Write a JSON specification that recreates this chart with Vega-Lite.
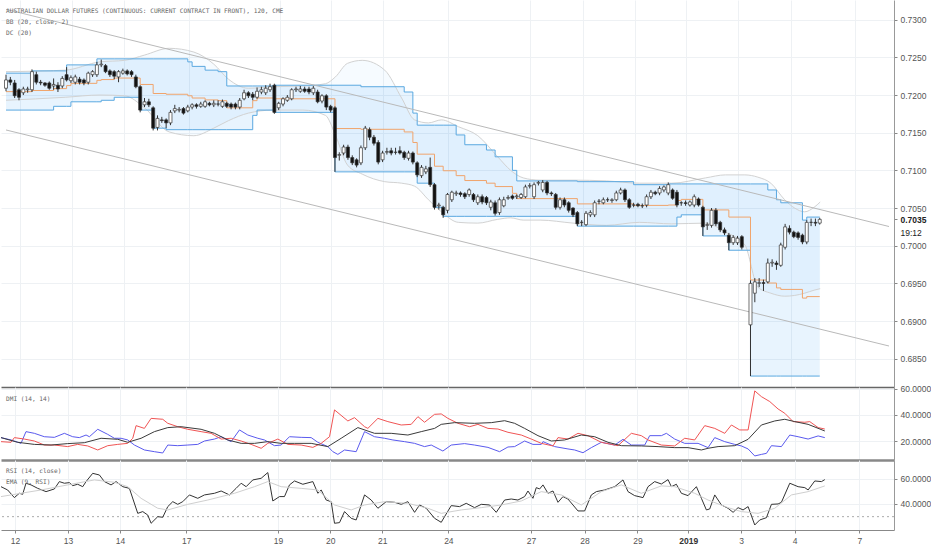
{
  "$schema": "https://vega.github.io/schema/vega-lite/v6.json",
  "padding": 0,
  "spacing": 0,
  "bounds": "flush",
  "resolve": {"scale": {"color": "independent"}},
  "config": {
    "view": {"stroke": null},
    "axis": {"gridColor": "#eef1f4", "gridWidth": 1, "labelFont": "Liberation Sans", "labelFontSize": 8.5, "labelColor": "#555", "domainColor": "#888", "tickColor": "#888", "labelOverlap": false}
  },
  "datasets": {
    "candles": [
      {"t":0,"o":0.7209,"h":0.7227,"l":0.7205,"c":0.7220},{"t":1,"o":0.7220,"h":0.7224,"l":0.7213,"c":0.7217},{"t":2,"o":0.7216,"h":0.7220,"l":0.7196,"c":0.7199},{"t":3,"o":0.7207,"h":0.7209,"l":0.7193,"c":0.7197},{"t":4,"o":0.7203,"h":0.7211,"l":0.7200,"c":0.7208},{"t":5,"o":0.7207,"h":0.7211,"l":0.7203,"c":0.7208},{"t":6,"o":0.7207,"h":0.7234,"l":0.7204,"c":0.7231},{"t":7,"o":0.7227,"h":0.7231,"l":0.7214,"c":0.7217},{"t":8,"o":0.7217,"h":0.7220,"l":0.7213,"c":0.7216},{"t":9,"o":0.7216,"h":0.7217,"l":0.7211,"c":0.7213},
      {"t":10,"o":0.7216,"h":0.7218,"l":0.7207,"c":0.7209},{"t":11,"o":0.7212,"h":0.7222,"l":0.7207,"c":0.7214},{"t":12,"o":0.7213,"h":0.7217,"l":0.7204,"c":0.7208},{"t":13,"o":0.7212,"h":0.7225,"l":0.7209,"c":0.7222},{"t":14,"o":0.7227,"h":0.7237,"l":0.7218,"c":0.7220},{"t":15,"o":0.7219,"h":0.7226,"l":0.7216,"c":0.7223},{"t":16,"o":0.7217,"h":0.7227,"l":0.7214,"c":0.7224},{"t":17,"o":0.7221,"h":0.7224,"l":0.7214,"c":0.7217},{"t":18,"o":0.7220,"h":0.7222,"l":0.7213,"c":0.7216},{"t":19,"o":0.7217,"h":0.7231,"l":0.7214,"c":0.7229},
      {"t":20,"o":0.7227,"h":0.7233,"l":0.7224,"c":0.7231},{"t":21,"o":0.7227,"h":0.7244,"l":0.7224,"c":0.7240},{"t":22,"o":0.7240,"h":0.7247,"l":0.7237,"c":0.7241},{"t":23,"o":0.7239,"h":0.7241,"l":0.7229,"c":0.7231},{"t":24,"o":0.7232,"h":0.7234,"l":0.7224,"c":0.7227},{"t":25,"o":0.7231,"h":0.7233,"l":0.7221,"c":0.7225},{"t":26,"o":0.7224,"h":0.7233,"l":0.7217,"c":0.7231},{"t":27,"o":0.7229,"h":0.7235,"l":0.7227,"c":0.7232},{"t":28,"o":0.7232,"h":0.7234,"l":0.7226,"c":0.7228},{"t":29,"o":0.7231,"h":0.7233,"l":0.7224,"c":0.7227},
      {"t":30,"o":0.7224,"h":0.7227,"l":0.7209,"c":0.7211},{"t":31,"o":0.7211,"h":0.7213,"l":0.7177,"c":0.7180},{"t":32,"o":0.7187,"h":0.7196,"l":0.7184,"c":0.7191},{"t":33,"o":0.7191,"h":0.7195,"l":0.7184,"c":0.7187},{"t":34,"o":0.7183,"h":0.7185,"l":0.7153,"c":0.7156},{"t":35,"o":0.7157,"h":0.7173,"l":0.7153,"c":0.7169},{"t":36,"o":0.7167,"h":0.7171,"l":0.7163,"c":0.7166},{"t":37,"o":0.7167,"h":0.7169,"l":0.7156,"c":0.7163},{"t":38,"o":0.7163,"h":0.7180,"l":0.7160,"c":0.7177},{"t":39,"o":0.7179,"h":0.7187,"l":0.7176,"c":0.7182},
      {"t":40,"o":0.7180,"h":0.7184,"l":0.7177,"c":0.7181},{"t":41,"o":0.7182,"h":0.7184,"l":0.7174,"c":0.7176},{"t":42,"o":0.7179,"h":0.7187,"l":0.7177,"c":0.7184},{"t":43,"o":0.7184,"h":0.7189,"l":0.7181,"c":0.7187},{"t":44,"o":0.7187,"h":0.7189,"l":0.7182,"c":0.7185},{"t":45,"o":0.7185,"h":0.7191,"l":0.7183,"c":0.7188},{"t":46,"o":0.7185,"h":0.7193,"l":0.7183,"c":0.7191},{"t":47,"o":0.7189,"h":0.7191,"l":0.7185,"c":0.7187},{"t":48,"o":0.7187,"h":0.7193,"l":0.7184,"c":0.7189},{"t":49,"o":0.7188,"h":0.7193,"l":0.7185,"c":0.7188},
      {"t":50,"o":0.7185,"h":0.7194,"l":0.7183,"c":0.7191},{"t":51,"o":0.7189,"h":0.7191,"l":0.7183,"c":0.7185},{"t":52,"o":0.7188,"h":0.7190,"l":0.7181,"c":0.7184},{"t":53,"o":0.7188,"h":0.7190,"l":0.7181,"c":0.7184},{"t":54,"o":0.7184,"h":0.7196,"l":0.7181,"c":0.7193},{"t":55,"o":0.7195,"h":0.7207,"l":0.7193,"c":0.7203},{"t":56,"o":0.7203,"h":0.7205,"l":0.7196,"c":0.7199},{"t":57,"o":0.7201,"h":0.7204,"l":0.7193,"c":0.7197},{"t":58,"o":0.7197,"h":0.7210,"l":0.7195,"c":0.7205},{"t":59,"o":0.7204,"h":0.7211,"l":0.7201,"c":0.7207},
      {"t":60,"o":0.7203,"h":0.7213,"l":0.7200,"c":0.7209},{"t":61,"o":0.7207,"h":0.7215,"l":0.7204,"c":0.7211},{"t":62,"o":0.7213,"h":0.7215,"l":0.7175,"c":0.7177},{"t":63,"o":0.7183,"h":0.7191,"l":0.7180,"c":0.7189},{"t":64,"o":0.7188,"h":0.7197,"l":0.7185,"c":0.7195},{"t":65,"o":0.7193,"h":0.7200,"l":0.7191,"c":0.7197},{"t":66,"o":0.7195,"h":0.7209,"l":0.7193,"c":0.7207},{"t":67,"o":0.7207,"h":0.7211,"l":0.7204,"c":0.7208},{"t":68,"o":0.7205,"h":0.7212,"l":0.7203,"c":0.7208},{"t":69,"o":0.7208,"h":0.7211,"l":0.7203,"c":0.7205},
      {"t":70,"o":0.7208,"h":0.7211,"l":0.7201,"c":0.7204},{"t":71,"o":0.7203,"h":0.7212,"l":0.7200,"c":0.7209},{"t":72,"o":0.7204,"h":0.7207,"l":0.7189,"c":0.7191},{"t":73,"o":0.7192,"h":0.7201,"l":0.7189,"c":0.7199},{"t":74,"o":0.7199,"h":0.7201,"l":0.7180,"c":0.7184},{"t":75,"o":0.7185,"h":0.7187,"l":0.7177,"c":0.7180},{"t":76,"o":0.7183,"h":0.7185,"l":0.7098,"c":0.7117},{"t":77,"o":0.7120,"h":0.7124,"l":0.7113,"c":0.7121},{"t":78,"o":0.7123,"h":0.7134,"l":0.7120,"c":0.7131},{"t":79,"o":0.7131,"h":0.7134,"l":0.7114,"c":0.7117},
      {"t":80,"o":0.7117,"h":0.7120,"l":0.7107,"c":0.7110},{"t":81,"o":0.7114,"h":0.7116,"l":0.7104,"c":0.7107},{"t":82,"o":0.7110,"h":0.7133,"l":0.7107,"c":0.7130},{"t":83,"o":0.7130,"h":0.7159,"l":0.7127,"c":0.7156},{"t":84,"o":0.7154,"h":0.7157,"l":0.7140,"c":0.7144},{"t":85,"o":0.7144,"h":0.7147,"l":0.7133,"c":0.7136},{"t":86,"o":0.7137,"h":0.7140,"l":0.7108,"c":0.7111},{"t":87,"o":0.7114,"h":0.7126,"l":0.7111,"c":0.7123},{"t":88,"o":0.7124,"h":0.7130,"l":0.7121,"c":0.7125},{"t":89,"o":0.7126,"h":0.7130,"l":0.7120,"c":0.7123},
      {"t":90,"o":0.7124,"h":0.7130,"l":0.7121,"c":0.7124},{"t":91,"o":0.7126,"h":0.7132,"l":0.7121,"c":0.7123},{"t":92,"o":0.7124,"h":0.7126,"l":0.7114,"c":0.7117},{"t":93,"o":0.7116,"h":0.7126,"l":0.7113,"c":0.7123},{"t":94,"o":0.7123,"h":0.7125,"l":0.7108,"c":0.7111},{"t":95,"o":0.7110,"h":0.7112,"l":0.7091,"c":0.7094},{"t":96,"o":0.7093,"h":0.7107,"l":0.7090,"c":0.7104},{"t":97,"o":0.7098,"h":0.7106,"l":0.7095,"c":0.7102},{"t":98,"o":0.7104,"h":0.7117,"l":0.7078,"c":0.7081},{"t":99,"o":0.7081,"h":0.7083,"l":0.7048,"c":0.7051},
      {"t":100,"o":0.7053,"h":0.7057,"l":0.7048,"c":0.7054},{"t":101,"o":0.7051,"h":0.7053,"l":0.7037,"c":0.7041},{"t":102,"o":0.7047,"h":0.7070,"l":0.7043,"c":0.7068},{"t":103,"o":0.7061,"h":0.7073,"l":0.7058,"c":0.7071},{"t":104,"o":0.7069,"h":0.7073,"l":0.7066,"c":0.7070},{"t":105,"o":0.7070,"h":0.7072,"l":0.7065,"c":0.7068},{"t":106,"o":0.7069,"h":0.7071,"l":0.7062,"c":0.7065},{"t":107,"o":0.7068,"h":0.7076,"l":0.7065,"c":0.7074},{"t":108,"o":0.7068,"h":0.7070,"l":0.7058,"c":0.7061},{"t":109,"o":0.7057,"h":0.7068,"l":0.7054,"c":0.7065},
      {"t":110,"o":0.7065,"h":0.7068,"l":0.7055,"c":0.7058},{"t":111,"o":0.7064,"h":0.7066,"l":0.7054,"c":0.7057},{"t":112,"o":0.7051,"h":0.7061,"l":0.7047,"c":0.7058},{"t":113,"o":0.7057,"h":0.7060,"l":0.7040,"c":0.7043},{"t":114,"o":0.7044,"h":0.7064,"l":0.7041,"c":0.7061},{"t":115,"o":0.7053,"h":0.7065,"l":0.7051,"c":0.7061},{"t":116,"o":0.7063,"h":0.7067,"l":0.7061,"c":0.7064},{"t":117,"o":0.7066,"h":0.7068,"l":0.7061,"c":0.7063},{"t":118,"o":0.7065,"h":0.7068,"l":0.7062,"c":0.7066},{"t":119,"o":0.7064,"h":0.7070,"l":0.7062,"c":0.7068},
      {"t":120,"o":0.7065,"h":0.7081,"l":0.7063,"c":0.7078},{"t":121,"o":0.7079,"h":0.7083,"l":0.7076,"c":0.7080},{"t":122,"o":0.7065,"h":0.7084,"l":0.7062,"c":0.7081},{"t":123,"o":0.7083,"h":0.7086,"l":0.7080,"c":0.7084},{"t":124,"o":0.7074,"h":0.7087,"l":0.7071,"c":0.7084},{"t":125,"o":0.7084,"h":0.7086,"l":0.7067,"c":0.7070},{"t":126,"o":0.7070,"h":0.7072,"l":0.7066,"c":0.7069},{"t":127,"o":0.7068,"h":0.7070,"l":0.7048,"c":0.7051},{"t":128,"o":0.7051,"h":0.7064,"l":0.7048,"c":0.7061},{"t":129,"o":0.7061,"h":0.7064,"l":0.7051,"c":0.7054},
      {"t":130,"o":0.7057,"h":0.7059,"l":0.7044,"c":0.7047},{"t":131,"o":0.7050,"h":0.7051,"l":0.7038,"c":0.7041},{"t":132,"o":0.7044,"h":0.7046,"l":0.7026,"c":0.7029},{"t":133,"o":0.7031,"h":0.7034,"l":0.7026,"c":0.7031},{"t":134,"o":0.7028,"h":0.7046,"l":0.7026,"c":0.7043},{"t":135,"o":0.7041,"h":0.7047,"l":0.7038,"c":0.7044},{"t":136,"o":0.7041,"h":0.7060,"l":0.7038,"c":0.7057},{"t":137,"o":0.7059,"h":0.7062,"l":0.7055,"c":0.7059},{"t":138,"o":0.7057,"h":0.7064,"l":0.7055,"c":0.7061},{"t":139,"o":0.7061,"h":0.7064,"l":0.7058,"c":0.7061},
      {"t":140,"o":0.7060,"h":0.7063,"l":0.7057,"c":0.7061},{"t":141,"o":0.7061,"h":0.7073,"l":0.7059,"c":0.7070},{"t":142,"o":0.7070,"h":0.7077,"l":0.7068,"c":0.7074},{"t":143,"o":0.7074,"h":0.7076,"l":0.7058,"c":0.7061},{"t":144,"o":0.7061,"h":0.7063,"l":0.7049,"c":0.7051},{"t":145,"o":0.7054,"h":0.7057,"l":0.7051,"c":0.7054},{"t":146,"o":0.7055,"h":0.7057,"l":0.7051,"c":0.7053},{"t":147,"o":0.7053,"h":0.7056,"l":0.7050,"c":0.7053},{"t":148,"o":0.7054,"h":0.7068,"l":0.7051,"c":0.7065},{"t":149,"o":0.7065,"h":0.7074,"l":0.7062,"c":0.7071},
      {"t":150,"o":0.7071,"h":0.7073,"l":0.7067,"c":0.7069},{"t":151,"o":0.7070,"h":0.7079,"l":0.7067,"c":0.7076},{"t":152,"o":0.7074,"h":0.7080,"l":0.7071,"c":0.7078},{"t":153,"o":0.7070,"h":0.7084,"l":0.7067,"c":0.7081},{"t":154,"o":0.7074,"h":0.7076,"l":0.7061,"c":0.7063},{"t":155,"o":0.7071,"h":0.7074,"l":0.7051,"c":0.7054},{"t":156,"o":0.7057,"h":0.7059,"l":0.7053,"c":0.7057},{"t":157,"o":0.7057,"h":0.7060,"l":0.7053,"c":0.7056},{"t":158,"o":0.7054,"h":0.7060,"l":0.7052,"c":0.7058},{"t":159,"o":0.7054,"h":0.7068,"l":0.7051,"c":0.7065},
      {"t":160,"o":0.7062,"h":0.7064,"l":0.7052,"c":0.7054},{"t":161,"o":0.7051,"h":0.7053,"l":0.7013,"c":0.7025},{"t":162,"o":0.7027,"h":0.7031,"l":0.7021,"c":0.7028},{"t":163,"o":0.7027,"h":0.7050,"l":0.7024,"c":0.7047},{"t":164,"o":0.7047,"h":0.7050,"l":0.7026,"c":0.7029},{"t":165,"o":0.7031,"h":0.7033,"l":0.7018,"c":0.7021},{"t":166,"o":0.7021,"h":0.7024,"l":0.7014,"c":0.7017},{"t":167,"o":0.7014,"h":0.7017,"l":0.6994,"c":0.7004},{"t":168,"o":0.7004,"h":0.7014,"l":0.7001,"c":0.7011},{"t":169,"o":0.7004,"h":0.7013,"l":0.7001,"c":0.7010},
      {"t":170,"o":0.7012,"h":0.7014,"l":0.6995,"c":0.6998},{"t":172,"o":0.6895,"h":0.6954,"l":0.6827,"c":0.6950},{"t":173,"o":0.6937,"h":0.6957,"l":0.6925,"c":0.6952},{"t":174,"o":0.6950,"h":0.6957,"l":0.6945,"c":0.6951},{"t":175,"o":0.6951,"h":0.6955,"l":0.6940,"c":0.6950},{"t":176,"o":0.6952,"h":0.6983,"l":0.6950,"c":0.6977},{"t":177,"o":0.6977,"h":0.6982,"l":0.6972,"c":0.6978},{"t":178,"o":0.6977,"h":0.6980,"l":0.6968,"c":0.6975},{"t":179,"o":0.6974,"h":0.7004,"l":0.6972,"c":0.7001},
      {"t":180,"o":0.6998,"h":0.7029,"l":0.6995,"c":0.7025},{"t":181,"o":0.7023,"h":0.7027,"l":0.7015,"c":0.7018},{"t":182,"o":0.7018,"h":0.7020,"l":0.7010,"c":0.7012},{"t":183,"o":0.7017,"h":0.7019,"l":0.7008,"c":0.7011},{"t":184,"o":0.7014,"h":0.7016,"l":0.7002,"c":0.7005},{"t":185,"o":0.7005,"h":0.7034,"l":0.7002,"c":0.7031},{"t":186,"o":0.7031,"h":0.7036,"l":0.7026,"c":0.7031},{"t":187,"o":0.7031,"h":0.7036,"l":0.7026,"c":0.7030},{"t":188,"o":0.7030,"h":0.7037,"l":0.7028,"c":0.7035}
    ],
    "dc": [
      {"t":0,"u":0.7229,"l":0.718,"m":0.72045},{"t":6,"u":0.7232,"l":0.718,"m":0.7206},{"t":11,"u":0.7232,"l":0.7185,"m":0.72085},{"t":14,"u":0.724,"l":0.7185,"m":0.72125},{"t":15,"u":0.724,"l":0.7191,"m":0.72155},{"t":21,"u":0.7248,"l":0.7191,"m":0.72195},{"t":22,"u":0.7248,"l":0.7193,"m":0.72205},{"t":25,"u":0.7248,"l":0.7197,"m":0.72225},{"t":31,"u":0.7248,"l":0.718,"m":0.7214},{"t":34,"u":0.7248,"l":0.7156,"m":0.7202},{"t":37,"u":0.7248,"l":0.7154,"m":0.7201},{"t":42,"u":0.7244,"l":0.7154,"m":0.7199},{"t":43,"u":0.7238,"l":0.7154,"m":0.7196},{"t":46,"u":0.7233,"l":0.7154,"m":0.71935},{"t":49,"u":0.7231,"l":0.7154,"m":0.71925},{"t":51,"u":0.7212,"l":0.7154,"m":0.7183},{"t":57,"u":0.7212,"l":0.7173,"m":0.71925},{"t":58,"u":0.7212,"l":0.718,"m":0.7196},{"t":62,"u":0.7213,"l":0.7177,"m":0.7195},{"t":76,"u":0.7213,"l":0.7098,"m":0.71555},{"t":82,"u":0.7211,"l":0.7098,"m":0.71545},{"t":92,"u":0.7204,"l":0.7098,"m":0.7151},{"t":94,"u":0.7176,"l":0.7098,"m":0.7137},{"t":95,"u":0.716,"l":0.7083,"m":0.71215},{"t":99,"u":0.716,"l":0.7051,"m":0.71055},{"t":101,"u":0.716,"l":0.7039,"m":0.70995},{"t":104,"u":0.7147,"l":0.7039,"m":0.7093},{"t":106,"u":0.7134,"l":0.7039,"m":0.70865},{"t":111,"u":0.7127,"l":0.7039,"m":0.7083},{"t":113,"u":0.7118,"l":0.7039,"m":0.70785},{"t":117,"u":0.71,"l":0.7039,"m":0.70695},{"t":118,"u":0.7086,"l":0.7039,"m":0.70625},{"t":132,"u":0.7085,"l":0.7026,"m":0.70555},{"t":145,"u":0.7081,"l":0.7026,"m":0.70535},{"t":153,"u":0.7082,"l":0.7026,"m":0.7054},{"t":155,"u":0.7082,"l":0.7038,"m":0.706},{"t":156,"u":0.7082,"l":0.7041,"m":0.70615},{"t":161,"u":0.7082,"l":0.7013,"m":0.70475},{"t":167,"u":0.7082,"l":0.6994,"m":0.7038},{"t":172,"u":0.7082,"l":0.6827,"m":0.69545},{"t":176,"u":0.7074,"l":0.6827,"m":0.69505},{"t":178,"u":0.7061,"l":0.6827,"m":0.6944},{"t":179,"u":0.7057,"l":0.6827,"m":0.6942},{"t":184,"u":0.7034,"l":0.6827,"m":0.69305},{"t":185,"u":0.7038,"l":0.6827,"m":0.69325},{"t":188,"u":0.7038,"l":0.6827,"m":0.69325}
    ],
    "bb": [
      {"t":0,"u":0.7231,"l":0.7193},{"t":13.7,"u":0.7233,"l":0.7197},{"t":21.7,"u":0.7244,"l":0.72},{"t":27.4,"u":0.7246,"l":0.7199},{"t":32,"u":0.7253,"l":0.7183},{"t":37.7,"u":0.7262,"l":0.7151},{"t":43.4,"u":0.7257,"l":0.7146},{"t":48,"u":0.7241,"l":0.7156},{"t":51.4,"u":0.7221,"l":0.7166},{"t":56,"u":0.7209,"l":0.7176},{"t":61.7,"u":0.7211,"l":0.718},{"t":68.6,"u":0.7212,"l":0.718},{"t":73.8,"u":0.7215,"l":0.7173},{"t":76.1,"u":0.7224,"l":0.7147},{"t":78.9,"u":0.7242,"l":0.7107},{"t":82.3,"u":0.7246,"l":0.7095},{"t":87.5,"u":0.7233,"l":0.7085},{"t":91.4,"u":0.7196,"l":0.7083},{"t":94.4,"u":0.7167,"l":0.7079},{"t":97.6,"u":0.7163,"l":0.7061},{"t":100.6,"u":0.7167,"l":0.7045},{"t":104.5,"u":0.7158,"l":0.7031},{"t":109,"u":0.7146,"l":0.703},{"t":113.6,"u":0.7118,"l":0.7035},{"t":116.6,"u":0.71,"l":0.7037},{"t":119.5,"u":0.709,"l":0.7034},{"t":123.4,"u":0.7087,"l":0.7034},{"t":131,"u":0.7087,"l":0.703},{"t":138.7,"u":0.7086,"l":0.7027},{"t":146.3,"u":0.7083,"l":0.7031},{"t":153.8,"u":0.7083,"l":0.7029},{"t":161.6,"u":0.709,"l":0.703},{"t":166.2,"u":0.7094,"l":0.7018},{"t":170.7,"u":0.7094,"l":0.7001},{"t":173.7,"u":0.7091,"l":0.6945},{"t":176.7,"u":0.7083,"l":0.6937},{"t":179.9,"u":0.7061,"l":0.6933},{"t":182.2,"u":0.705,"l":0.6934},{"t":184.5,"u":0.7045,"l":0.6937},{"t":186.7,"u":0.7051,"l":0.6941},{"t":188.1,"u":0.7058,"l":0.6943}
    ],
    "trend": [
      {"g":"a","t":0,"p":0.73137},{"g":"a","t":204,"p":0.70255},{"g":"b","t":0,"p":0.71536},{"g":"b","t":204,"p":0.68669}
    ],
    "dmi": [
      {"s":"p","t":0,"v":22.6},{"s":"p","t":2.29,"v":20.8},{"s":"p","t":4.57,"v":18.2},{"s":"p","t":5.71,"v":27.2},{"s":"p","t":7.62,"v":25.9},{"s":"p","t":9.9,"v":23.3},{"s":"p","t":12.19,"v":22.8},{"s":"p","t":14.48,"v":25.9},{"s":"p","t":16.38,"v":23.3},{"s":"p","t":17.9,"v":22.6},{"s":"p","t":19.43,"v":24.6},{"s":"p","t":20.19,"v":23.3},{"s":"p","t":22.1,"v":29},{"s":"p","t":24.38,"v":25.1},{"s":"p","t":25.9,"v":22.1},{"s":"p","t":27.43,"v":22.1},{"s":"p","t":28.95,"v":20.8},{"s":"p","t":30.48,"v":16.9},{"s":"p","t":32.76,"v":13.1},{"s":"p","t":35.05,"v":11.8},{"s":"p","t":36.95,"v":10.8},{"s":"p","t":38.1,"v":16.9},{"s":"p","t":40.38,"v":16.4},{"s":"p","t":42.67,"v":16.9},{"s":"p","t":44.95,"v":17.4},{"s":"p","t":46.48,"v":20},{"s":"p","t":48.76,"v":21.5},{"s":"p","t":50.29,"v":23.3},{"s":"p","t":52.57,"v":19.5},{"s":"p","t":54.48,"v":28.5},{"s":"p","t":56.38,"v":24.6},{"s":"p","t":58.67,"v":22.1},{"s":"p","t":60.19,"v":20.8},{"s":"p","t":62.48,"v":16.4},{"s":"p","t":64,"v":16.9},{"s":"p","t":65.9,"v":23.3},{"s":"p","t":68.57,"v":22.8},{"s":"p","t":70.86,"v":22.6},{"s":"p","t":72.38,"v":19},{"s":"p","t":74.67,"v":15.7},{"s":"p","t":75.81,"v":11.8},{"s":"p","t":76.95,"v":9.7},{"s":"p","t":78.48,"v":13.1},{"s":"p","t":81.14,"v":11.8},{"s":"p","t":83.05,"v":27.2},{"s":"p","t":85.33,"v":23.3},{"s":"p","t":87.62,"v":22.1},{"s":"p","t":89.52,"v":20.8},{"s":"p","t":92.19,"v":19.5},{"s":"p","t":94.48,"v":18.2},{"s":"p","t":96.76,"v":15.7},{"s":"p","t":98.29,"v":16.9},{"s":"p","t":100.95,"v":12.3},{"s":"p","t":102.86,"v":16.9},{"s":"p","t":105.9,"v":18},{"s":"p","t":108.19,"v":16.9},{"s":"p","t":111.24,"v":15.1},{"s":"p","t":113.9,"v":11.8},{"s":"p","t":115.81,"v":15.4},{"s":"p","t":117.33,"v":15.7},{"s":"p","t":119.62,"v":20},{"s":"p","t":121.52,"v":17.4},{"s":"p","t":123.43,"v":17.4},{"s":"p","t":123.81,"v":19.5},{"s":"p","t":126.48,"v":15.7},{"s":"p","t":129.52,"v":13.9},{"s":"p","t":131.05,"v":13.1},{"s":"p","t":132.95,"v":11},{"s":"p","t":134.86,"v":14.9},{"s":"p","t":137.14,"v":19},{"s":"p","t":140.19,"v":16.9},{"s":"p","t":142.1,"v":21.3},{"s":"p","t":144,"v":16.9},{"s":"p","t":147.05,"v":16.9},{"s":"p","t":148.19,"v":24.1},{"s":"p","t":150.86,"v":24.1},{"s":"p","t":152,"v":25.9},{"s":"p","t":153.9,"v":21.5},{"s":"p","t":156.19,"v":18.2},{"s":"p","t":159.24,"v":18.2},{"s":"p","t":161.52,"v":14.9},{"s":"p","t":163.05,"v":22.6},{"s":"p","t":165.33,"v":19.5},{"s":"p","t":167.62,"v":17.4},{"s":"p","t":169.14,"v":16.2},{"s":"p","t":170.67,"v":13.9},{"s":"p","t":172.19,"v":8.5},{"s":"p","t":173.71,"v":9.7},{"s":"p","t":174.86,"v":10.5},{"s":"p","t":176,"v":16.4},{"s":"p","t":178.28,"v":15.7},{"s":"p","t":180.19,"v":24.6},{"s":"p","t":182.09,"v":23.3},{"s":"p","t":184.38,"v":21.5},{"s":"p","t":186.67,"v":23.9},{"s":"p","t":188.19,"v":22.6},
      {"s":"m","t":0,"v":19.5},{"s":"m","t":2.29,"v":19},{"s":"m","t":3.05,"v":22.6},{"s":"m","t":5.33,"v":21.5},{"s":"m","t":7.62,"v":20},{"s":"m","t":9.9,"v":16.9},{"s":"m","t":12.19,"v":16.9},{"s":"m","t":15.24,"v":15.7},{"s":"m","t":17.52,"v":17.4},{"s":"m","t":19.81,"v":16.2},{"s":"m","t":22.1,"v":13.1},{"s":"m","t":24.38,"v":16.4},{"s":"m","t":26.67,"v":17.4},{"s":"m","t":28.95,"v":18.2},{"s":"m","t":30.1,"v":22.1},{"s":"m","t":30.86,"v":31.8},{"s":"m","t":32.76,"v":29.7},{"s":"m","t":34.29,"v":37.4},{"s":"m","t":36.95,"v":36.7},{"s":"m","t":38.1,"v":33.6},{"s":"m","t":40.38,"v":31},{"s":"m","t":42.67,"v":29},{"s":"m","t":45.71,"v":27.2},{"s":"m","t":48,"v":25.9},{"s":"m","t":50.29,"v":21.5},{"s":"m","t":52.57,"v":22.1},{"s":"m","t":54.86,"v":20},{"s":"m","t":57.14,"v":17.4},{"s":"m","t":59.43,"v":14.4},{"s":"m","t":60.95,"v":18.2},{"s":"m","t":63.24,"v":21.5},{"s":"m","t":65.52,"v":17.4},{"s":"m","t":68.57,"v":16.9},{"s":"m","t":71.24,"v":15.1},{"s":"m","t":73.14,"v":18.2},{"s":"m","t":75.05,"v":23.3},{"s":"m","t":76.19,"v":43.9},{"s":"m","t":79.24,"v":35.4},{"s":"m","t":80.76,"v":37.95},{"s":"m","t":83.05,"v":31},{"s":"m","t":83.81,"v":29.7},{"s":"m","t":86.1,"v":37.4},{"s":"m","t":88.38,"v":34.9},{"s":"m","t":91.43,"v":32.3},{"s":"m","t":93.71,"v":32.8},{"s":"m","t":95.24,"v":38.7},{"s":"m","t":96.76,"v":34.4},{"s":"m","t":99.05,"v":40.5},{"s":"m","t":100.57,"v":40.8},{"s":"m","t":102.1,"v":37.4},{"s":"m","t":104.38,"v":33.6},{"s":"m","t":107.05,"v":31},{"s":"m","t":108.95,"v":32.8},{"s":"m","t":111.24,"v":29.7},{"s":"m","t":113.52,"v":29.2},{"s":"m","t":115.81,"v":26.7},{"s":"m","t":118.86,"v":24.6},{"s":"m","t":121.14,"v":21.5},{"s":"m","t":123.43,"v":18.2},{"s":"m","t":126.1,"v":16.2},{"s":"m","t":127.24,"v":22.6},{"s":"m","t":129.52,"v":21.5},{"s":"m","t":131.81,"v":25.9},{"s":"m","t":134.1,"v":24.1},{"s":"m","t":137.14,"v":19},{"s":"m","t":139.43,"v":17.4},{"s":"m","t":140.95,"v":16.4},{"s":"m","t":144,"v":25.9},{"s":"m","t":146.28,"v":24.1},{"s":"m","t":147.81,"v":20.8},{"s":"m","t":150.86,"v":16.9},{"s":"m","t":153.9,"v":16.2},{"s":"m","t":156.19,"v":22.1},{"s":"m","t":158.47,"v":20.8},{"s":"m","t":160.76,"v":31.8},{"s":"m","t":163.05,"v":29.7},{"s":"m","t":165.33,"v":25.9},{"s":"m","t":166.86,"v":32.3},{"s":"m","t":168.76,"v":28.5},{"s":"m","t":170.67,"v":28.5},{"s":"m","t":172.19,"v":58.5},{"s":"m","t":173.71,"v":54.1},{"s":"m","t":175.62,"v":50.3},{"s":"m","t":177.52,"v":44.6},{"s":"m","t":179.05,"v":41.3},{"s":"m","t":180.95,"v":34.9},{"s":"m","t":183.62,"v":34.4},{"s":"m","t":184.76,"v":34.9},{"s":"m","t":186.67,"v":30.3},{"s":"m","t":188.19,"v":29.2},
      {"s":"a","t":0,"v":22.6},{"s":"a","t":3.81,"v":19},{"s":"a","t":7.62,"v":17.4},{"s":"a","t":11.43,"v":16.9},{"s":"a","t":15.24,"v":18},{"s":"a","t":19.05,"v":18.7},{"s":"a","t":22.86,"v":22.1},{"s":"a","t":26.67,"v":21.3},{"s":"a","t":28.95,"v":19},{"s":"a","t":32,"v":22.1},{"s":"a","t":35.05,"v":27.2},{"s":"a","t":38.1,"v":30.3},{"s":"a","t":41.14,"v":31},{"s":"a","t":45.71,"v":29},{"s":"a","t":48.76,"v":25.9},{"s":"a","t":51.81,"v":20.8},{"s":"a","t":54.86,"v":18.2},{"s":"a","t":57.9,"v":18.2},{"s":"a","t":60.95,"v":19.5},{"s":"a","t":64,"v":18.2},{"s":"a","t":67.05,"v":18.2},{"s":"a","t":70.86,"v":18.2},{"s":"a","t":74.67,"v":15.7},{"s":"a","t":77.71,"v":22.1},{"s":"a","t":81.52,"v":30.3},{"s":"a","t":85.33,"v":25.9},{"s":"a","t":89.14,"v":25.9},{"s":"a","t":92.95,"v":24.6},{"s":"a","t":96,"v":27.2},{"s":"a","t":99.05,"v":29.7},{"s":"a","t":100.57,"v":32.8},{"s":"a","t":103.62,"v":34.1},{"s":"a","t":108.19,"v":33.6},{"s":"a","t":112,"v":34.1},{"s":"a","t":115.05,"v":35.6},{"s":"a","t":117.33,"v":33.6},{"s":"a","t":119.62,"v":29.7},{"s":"a","t":122.67,"v":24.1},{"s":"a","t":125.71,"v":20},{"s":"a","t":128.76,"v":20.8},{"s":"a","t":132.57,"v":24.6},{"s":"a","t":135.62,"v":23.3},{"s":"a","t":138.67,"v":19},{"s":"a","t":141.71,"v":16.4},{"s":"a","t":146.28,"v":16.2},{"s":"a","t":150.1,"v":15.7},{"s":"a","t":153.9,"v":14.9},{"s":"a","t":156.95,"v":14.9},{"s":"a","t":160,"v":13.1},{"s":"a","t":161.52,"v":14.4},{"s":"a","t":163.81,"v":15.7},{"s":"a","t":167.62,"v":16.4},{"s":"a","t":170.67,"v":21.3},{"s":"a","t":173.71,"v":32.3},{"s":"a","t":176.76,"v":35.4},{"s":"a","t":179.05,"v":36.7},{"s":"a","t":181.33,"v":34.9},{"s":"a","t":184.38,"v":32.8},{"s":"a","t":188.19,"v":27.7}
    ],
    "rsi": [
      {"s":"r","t":0,"v":53.6},{"s":"r","t":1.52,"v":51},{"s":"r","t":3.05,"v":45},{"s":"r","t":4.19,"v":48.4},{"s":"r","t":4.95,"v":47.6},{"s":"r","t":5.71,"v":56.3},{"s":"r","t":6.86,"v":55},{"s":"r","t":8.38,"v":52.3},{"s":"r","t":10.29,"v":49.7},{"s":"r","t":12.19,"v":51.8},{"s":"r","t":13.33,"v":57.6},{"s":"r","t":14.48,"v":56.3},{"s":"r","t":15.62,"v":56.8},{"s":"r","t":16.38,"v":54.4},{"s":"r","t":17.52,"v":55.5},{"s":"r","t":18.67,"v":53.6},{"s":"r","t":19.43,"v":57.6},{"s":"r","t":20.95,"v":64.1},{"s":"r","t":22.48,"v":62.8},{"s":"r","t":23.62,"v":57.6},{"s":"r","t":25.14,"v":55},{"s":"r","t":26.29,"v":57.6},{"s":"r","t":27.81,"v":53.6},{"s":"r","t":29.33,"v":52.3},{"s":"r","t":31.24,"v":32.6},{"s":"r","t":32.38,"v":34},{"s":"r","t":33.52,"v":31.3},{"s":"r","t":34.29,"v":24.8},{"s":"r","t":35.81,"v":30},{"s":"r","t":36.95,"v":29.5},{"s":"r","t":38.1,"v":37.9},{"s":"r","t":39.24,"v":41.8},{"s":"r","t":40.38,"v":39.7},{"s":"r","t":41.52,"v":41.8},{"s":"r","t":43.05,"v":47.1},{"s":"r","t":44.95,"v":44.45},{"s":"r","t":46.48,"v":47.1},{"s":"r","t":48.76,"v":48.4},{"s":"r","t":50.29,"v":50.2},{"s":"r","t":52.19,"v":47.1},{"s":"r","t":53.71,"v":52.3},{"s":"r","t":54.86,"v":56.3},{"s":"r","t":56,"v":53.6},{"s":"r","t":57.52,"v":58.9},{"s":"r","t":59.43,"v":60.2},{"s":"r","t":60.95,"v":64.7},{"s":"r","t":62.1,"v":42.35},{"s":"r","t":63.62,"v":45.8},{"s":"r","t":64.76,"v":45.8},{"s":"r","t":65.9,"v":55},{"s":"r","t":67.05,"v":58.1},{"s":"r","t":68.95,"v":55.5},{"s":"r","t":71.24,"v":57.6},{"s":"r","t":72.38,"v":48.4},{"s":"r","t":73.14,"v":51},{"s":"r","t":74.29,"v":43.1},{"s":"r","t":75.43,"v":41.8},{"s":"r","t":76.19,"v":24.8},{"s":"r","t":77.33,"v":25.3},{"s":"r","t":78.48,"v":34},{"s":"r","t":80,"v":28.7},{"s":"r","t":81.14,"v":27.4},{"s":"r","t":83.05,"v":47.1},{"s":"r","t":84.57,"v":43.1},{"s":"r","t":86.1,"v":36.6},{"s":"r","t":88,"v":41.8},{"s":"r","t":89.9,"v":41.3},{"s":"r","t":91.43,"v":39.7},{"s":"r","t":92.95,"v":41.8},{"s":"r","t":94.48,"v":33.4},{"s":"r","t":95.62,"v":39.2},{"s":"r","t":97.14,"v":36.6},{"s":"r","t":99.05,"v":28.7},{"s":"r","t":100.57,"v":25.55},{"s":"r","t":101.33,"v":30},{"s":"r","t":102.86,"v":38.7},{"s":"r","t":104.76,"v":37.9},{"s":"r","t":106.28,"v":40.5},{"s":"r","t":108.19,"v":37.1},{"s":"r","t":109.71,"v":39.7},{"s":"r","t":111.62,"v":39.2},{"s":"r","t":113.14,"v":33.4},{"s":"r","t":115.05,"v":43.1},{"s":"r","t":116.57,"v":43.9},{"s":"r","t":118.09,"v":43.1},{"s":"r","t":119.62,"v":45.8},{"s":"r","t":120.38,"v":50.2},{"s":"r","t":121.52,"v":44.45},{"s":"r","t":122.28,"v":52.85},{"s":"r","t":123.05,"v":51.8},{"s":"r","t":123.81,"v":55},{"s":"r","t":124.95,"v":48.4},{"s":"r","t":126.1,"v":50.2},{"s":"r","t":127.24,"v":41.3},{"s":"r","t":128.38,"v":45.8},{"s":"r","t":129.52,"v":43.9},{"s":"r","t":131.81,"v":34.5},{"s":"r","t":133.33,"v":34.5},{"s":"r","t":134.86,"v":47.1},{"s":"r","t":136,"v":49.7},{"s":"r","t":137.9,"v":51},{"s":"r","t":140.19,"v":53.6},{"s":"r","t":142.09,"v":58.9},{"s":"r","t":143.24,"v":49.7},{"s":"r","t":144.76,"v":46.55},{"s":"r","t":146.67,"v":45},{"s":"r","t":147.81,"v":53.6},{"s":"r","t":149.33,"v":57.6},{"s":"r","t":150.86,"v":55.7},{"s":"r","t":152.38,"v":59.15},{"s":"r","t":153.14,"v":53.6},{"s":"r","t":154.28,"v":55.5},{"s":"r","t":155.43,"v":48.4},{"s":"r","t":156.95,"v":46.55},{"s":"r","t":158.86,"v":53.6},{"s":"r","t":160,"v":44.45},{"s":"r","t":161.14,"v":35.3},{"s":"r","t":161.9,"v":36.05},{"s":"r","t":163.05,"v":47.1},{"s":"r","t":164.57,"v":39.2},{"s":"r","t":166.09,"v":36.6},{"s":"r","t":167.24,"v":33.4},{"s":"r","t":168.38,"v":37.1},{"s":"r","t":169.52,"v":35.3},{"s":"r","t":170.67,"v":37.9},{"s":"r","t":172.19,"v":23.45},{"s":"r","t":173.33,"v":27.4},{"s":"r","t":174.86,"v":29.2},{"s":"r","t":176,"v":39.7},{"s":"r","t":177.52,"v":40},{"s":"r","t":178.28,"v":41.3},{"s":"r","t":180.19,"v":56.3},{"s":"r","t":182.09,"v":53.6},{"s":"r","t":183.62,"v":52.85},{"s":"r","t":184.38,"v":51},{"s":"r","t":185.9,"v":58.1},{"s":"r","t":187.43,"v":57.6},{"s":"r","t":188.19,"v":59.15},
      {"s":"e","t":0,"v":45.8},{"s":"e","t":4.57,"v":48.4},{"s":"e","t":9.14,"v":51},{"s":"e","t":15.24,"v":55},{"s":"e","t":21.33,"v":58.9},{"s":"e","t":25.9,"v":57.05},{"s":"e","t":28.95,"v":53.6},{"s":"e","t":32,"v":44.45},{"s":"e","t":35.81,"v":36.6},{"s":"e","t":38.1,"v":35.3},{"s":"e","t":42.67,"v":39.7},{"s":"e","t":47.24,"v":43.1},{"s":"e","t":53.33,"v":48.4},{"s":"e","t":57.9,"v":53.6},{"s":"e","t":60.95,"v":57.6},{"s":"e","t":64,"v":53.6},{"s":"e","t":68.57,"v":52.3},{"s":"e","t":72.38,"v":51},{"s":"e","t":76.19,"v":39.2},{"s":"e","t":80,"v":35.3},{"s":"e","t":83.05,"v":39.2},{"s":"e","t":87.62,"v":41.8},{"s":"e","t":92.95,"v":40.5},{"s":"e","t":97.52,"v":36.6},{"s":"e","t":100.57,"v":32.6},{"s":"e","t":105.14,"v":35.3},{"s":"e","t":109.71,"v":37.1},{"s":"e","t":114.28,"v":39.2},{"s":"e","t":118.86,"v":42.35},{"s":"e","t":123.43,"v":49.7},{"s":"e","t":128,"v":47.1},{"s":"e","t":132.57,"v":39.2},{"s":"e","t":137.14,"v":49.7},{"s":"e","t":141.71,"v":55},{"s":"e","t":146.28,"v":48.4},{"s":"e","t":150.86,"v":54.2},{"s":"e","t":153.9,"v":53.6},{"s":"e","t":158.47,"v":48.4},{"s":"e","t":161.52,"v":43.1},{"s":"e","t":166.09,"v":37.1},{"s":"e","t":169.14,"v":34},{"s":"e","t":172.95,"v":32.6},{"s":"e","t":176.76,"v":36.6},{"s":"e","t":180.57,"v":47.1},{"s":"e","t":184.38,"v":49.7},{"s":"e","t":188.19,"v":54.2}
    ],
    "lvl": [{"v": 30}]
  },
  "vconcat": [
    {
      "width": 893,
      "height": 387,
      "title": {"text": ["AUSTRALIAN DOLLAR FUTURES (CONTINUOUS: CURRENT CONTRACT IN FRONT), 120, CME", "BB (20, close, 2)", "DC (20)"], "anchor": "start", "frame": "group", "orient": "top", "baseline": "top", "offset": -36, "dx": 5, "font": "DejaVu Sans Mono", "fontSize": 6.15, "fontWeight": "normal", "color": "#666", "lineHeight": 11},
      "layer": [
        {
          "data": {"name": "bb"},
          "mark": {"type": "area", "interpolate": "monotone", "color": "#2196f3", "opacity": 0.04, "clip": true},
          "encoding": {
            "x": {"field": "t", "type": "quantitative", "scale": {"domain": [0, 204], "nice": false, "zero": false},
              "axis": {"values": [3.2, 15.3, 27.2, 42.3, 63.3, 75.2, 87.1, 102.2, 121.1, 133.3, 145.4, 157, 169.1, 181.3, 196.1], "tickCount": 40, "labels": false, "ticks": false, "grid": true, "domainColor": "#666", "domainWidth": 1.5, "title": null}},
            "y": {"field": "u", "type": "quantitative", "scale": {"domain": [0.68125, 0.73261], "nice": false, "zero": false},
              "axis": {"orient": "right", "values": [0.685, 0.69, 0.695, 0.7, 0.705, 0.71, 0.715, 0.72, 0.725, 0.73, 0.7035, 0.7017], "tickCount": 40,
                "labelExpr": "datum.value == 0.7017 ? '19:12' : format(datum.value, '.4f')",
                "labelFontWeight": {"condition": {"test": "datum.value == 0.7035", "value": "bold"}, "value": "normal"},
                "labelColor": {"condition": {"test": "datum.value == 0.7035 || datum.value == 0.7017", "value": "#222"}, "value": "#555"},
                "gridOpacity": {"condition": {"test": "datum.value == 0.7035 || datum.value == 0.7017", "value": 0}, "value": 1},
                "tickOpacity": {"condition": {"test": "datum.value == 0.7017", "value": 0}, "value": 1},
                "labelOverlap": false, "tickSize": 3, "labelPadding": 3, "domainColor": "#999", "title": null}},
            "y2": {"field": "l"}
          }
        },
        {
          "data": {"name": "dc"},
          "mark": {"type": "area", "interpolate": "step-after", "color": "#2196f3", "opacity": 0.1, "clip": true},
          "encoding": {
            "x": {"field": "t", "type": "quantitative", "axis": {"title": null}},
            "y": {"field": "u", "type": "quantitative", "axis": {"title": null}},
            "y2": {"field": "l"}
          }
        },
        {
          "data": {"name": "bb"},
          "mark": {"type": "line", "interpolate": "monotone", "color": "#d2d2d2", "strokeWidth": 1, "clip": true},
          "encoding": {"x": {"field": "t", "type": "quantitative", "axis": {"title": null}}, "y": {"field": "u", "type": "quantitative", "axis": {"title": null}}}
        },
        {
          "data": {"name": "bb"},
          "mark": {"type": "line", "interpolate": "monotone", "color": "#d2d2d2", "strokeWidth": 1, "clip": true},
          "encoding": {"x": {"field": "t", "type": "quantitative", "axis": {"title": null}}, "y": {"field": "l", "type": "quantitative", "axis": {"title": null}}}
        },
        {
          "data": {"name": "dc"},
          "mark": {"type": "line", "interpolate": "step-after", "color": "#5aa8e0", "strokeWidth": 1, "clip": true},
          "encoding": {"x": {"field": "t", "type": "quantitative", "axis": {"title": null}}, "y": {"field": "u", "type": "quantitative", "axis": {"title": null}}}
        },
        {
          "data": {"name": "dc"},
          "mark": {"type": "line", "interpolate": "step-after", "color": "#5aa8e0", "strokeWidth": 1, "clip": true},
          "encoding": {"x": {"field": "t", "type": "quantitative", "axis": {"title": null}}, "y": {"field": "l", "type": "quantitative", "axis": {"title": null}}}
        },
        {
          "data": {"name": "dc"},
          "mark": {"type": "line", "interpolate": "step-after", "color": "#f0a46c", "strokeWidth": 1, "clip": true},
          "encoding": {"x": {"field": "t", "type": "quantitative", "axis": {"title": null}}, "y": {"field": "m", "type": "quantitative", "axis": {"title": null}}}
        },
        {
          "data": {"name": "trend"},
          "mark": {"type": "line", "color": "#b9b9b9", "strokeWidth": 1, "clip": true},
          "encoding": {"x": {"field": "t", "type": "quantitative", "axis": {"title": null}}, "y": {"field": "p", "type": "quantitative", "axis": {"title": null}}, "detail": {"field": "g"}}
        },
        {
          "data": {"name": "candles"},
          "mark": {"type": "rule", "color": "#333", "strokeWidth": 1, "clip": true},
          "encoding": {"x": {"field": "t", "type": "quantitative", "axis": {"title": null}}, "y": {"field": "l", "type": "quantitative", "axis": {"title": null}}, "y2": {"field": "h"}}
        },
        {
          "data": {"name": "candles"},
          "mark": {"type": "bar", "size": 3, "stroke": "#333", "strokeWidth": 0.7, "clip": true},
          "encoding": {
            "x": {"field": "t", "type": "quantitative", "axis": {"title": null}},
            "y": {"field": "o", "type": "quantitative", "axis": {"title": null}},
            "y2": {"field": "c"},
            "fill": {"condition": {"test": "datum.c >= datum.o", "value": "#ffffff"}, "value": "#111111"}
          }
        }
      ]
    },
    {
      "width": 893,
      "height": 73,
      "title": {"text": "DMI (14, 14)", "anchor": "start", "frame": "group", "orient": "top", "baseline": "top", "offset": -17, "dx": 5, "font": "DejaVu Sans Mono", "fontSize": 6.15, "fontWeight": "normal", "color": "#666"},
      "data": {"name": "dmi"},
      "mark": {"type": "line", "strokeWidth": 1, "clip": true},
      "encoding": {
        "x": {"field": "t", "type": "quantitative", "scale": {"domain": [0, 204], "nice": false, "zero": false},
          "axis": {"values": [3.2, 15.3, 27.2, 42.3, 63.3, 75.2, 87.1, 102.2, 121.1, 133.3, 145.4, 157, 169.1, 181.3, 196.1], "tickCount": 40, "labels": false, "ticks": false, "grid": true, "domainColor": "#888", "domainWidth": 2.5, "title": null}},
        "y": {"field": "v", "type": "quantitative", "scale": {"domain": [5.4, 61.5], "nice": false, "zero": false},
          "axis": {"orient": "right", "values": [20, 40, 60], "tickCount": 10, "format": ".4f", "tickSize": 3, "labelPadding": 3, "domainColor": "#999", "title": null}},
        "color": {"field": "s", "type": "nominal", "scale": {"domain": ["m", "p", "a"], "range": ["#f05454", "#5a5aee", "#3a3a3a"]}, "legend": null}
      }
    },
    {
      "width": 893,
      "height": 70,
      "title": {"text": ["RSI (14, close)", "EMA (9, RSI)"], "anchor": "start", "frame": "group", "orient": "top", "baseline": "top", "offset": -25, "dx": 5, "font": "DejaVu Sans Mono", "fontSize": 6.15, "fontWeight": "normal", "color": "#666", "lineHeight": 11},
      "layer": [
        {
          "data": {"name": "lvl"},
          "mark": {"type": "rule", "color": "#aaa", "strokeDash": [2, 3], "strokeWidth": 1},
          "encoding": {
            "y": {"field": "v", "type": "quantitative", "scale": {"domain": [19.5, 74.6], "nice": false, "zero": false},
              "axis": {"orient": "right", "values": [40, 60], "tickCount": 10, "format": ".4f", "tickSize": 3, "labelPadding": 3, "domainColor": "#999", "title": null}}
          }
        },
        {
          "data": {"name": "rsi"},
          "mark": {"type": "line", "strokeWidth": 1, "clip": true},
          "encoding": {
            "x": {"field": "t", "type": "quantitative", "scale": {"domain": [0, 204], "nice": false, "zero": false},
              "axis": {"values": [3.2, 15.3, 27.2, 42.3, 63.3, 75.2, 87.1, 102.2, 121.1, 133.3, 145.4, 157, 169.1, 181.3, 196.1], "tickCount": 40,
                "labelExpr": "['12','13','14','17','19','20','21','24','27','28','29','2019','3','4','7'][indexof([3.2,15.3,27.2,42.3,63.3,75.2,87.1,102.2,121.1,133.3,145.4,157,169.1,181.3,196.1], datum.value)]",
                "labelFontWeight": {"condition": {"test": "datum.value == 157", "value": "bold"}, "value": "normal"},
                "labelColor": {"condition": {"test": "datum.value == 157", "value": "#333"}, "value": "#555"},
                "grid": true, "tickSize": 3, "labelPadding": 3, "domainColor": "#888", "title": null}},
            "y": {"field": "v", "type": "quantitative", "axis": {"title": null}},
            "color": {"field": "s", "type": "nominal", "scale": {"domain": ["e", "r"], "range": ["#cfcfcf", "#333333"]}, "legend": null}
          }
        }
      ]
    }
  ]
}
